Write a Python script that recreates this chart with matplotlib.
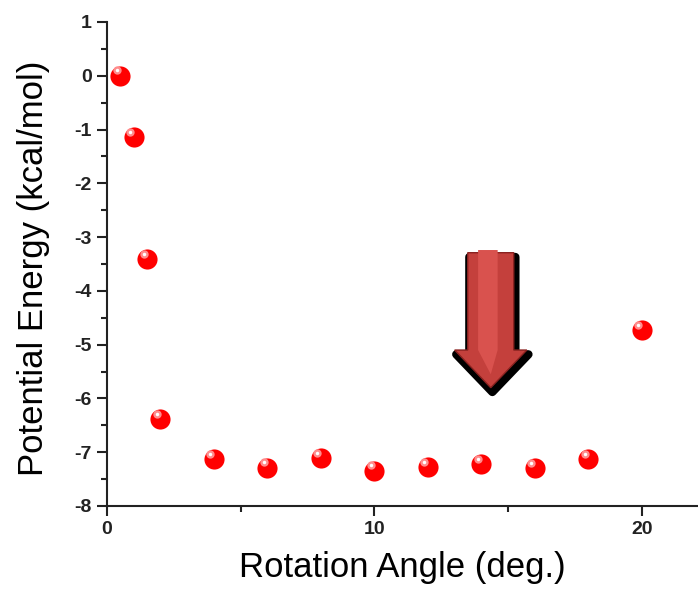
import matplotlib.pyplot as plt
from matplotlib.patches import Polygon
from matplotlib.ticker import MultipleLocator

plt.rcParams['font.family'] = ['Liberation Sans', 'DejaVu Sans']
plt.rcParams['axes.unicode_minus'] = False

# Datos
angulo = [0.5, 1, 1.5, 2, 4, 6, 8, 10, 12, 14, 16, 18, 20]
energia = [0.0, -1.14, -3.41, -6.39, -7.13, -7.29, -7.11, -7.34, -7.28, -7.22, -7.30, -7.13, -4.73]

x_ticks = [0, 10, 20]
y_ticks = list(range(-8, 2))

fig = plt.figure(figsize=(6.98, 5.92), dpi=100)
ax = fig.add_axes([107 / 698, 1 - 506 / 592, 1 - 107 / 698, (506 - 22) / 592])

# Puntos tipo esfera: base roja y brillo blanco
ax.plot(angulo, energia, 'o', color='#ff0000', markersize=14.5, markeredgewidth=0, zorder=3)
ax.plot([a - 0.13 for a in angulo], [e + 0.1 for e in energia], 'o', color='#ff8c8c',
        markersize=6, markeredgewidth=0, zorder=4)
ax.plot([a - 0.13 for a in angulo], [e + 0.1 for e in energia], 'o', color='white',
        markersize=2.5, markeredgewidth=0, zorder=5)

# Flecha hacia abajo
cx, top, neck, tip, sw, hw = 14.35, -3.29, -5.1, -5.8, 0.86, 1.35
flecha = [(cx - sw, top), (cx + sw, top), (cx + sw, neck), (cx + hw, neck),
          (cx, tip), (cx - hw, neck), (cx - sw, neck)]
sombra = [(x + 0.06, y - 0.08) for x, y in flecha]
ax.add_patch(Polygon(sombra, closed=True, facecolor='black', edgecolor='black',
                     linewidth=6, joinstyle='round', zorder=2))
ax.add_patch(Polygon(flecha, closed=True, facecolor='#c4403c', edgecolor='#8a2220',
                     linewidth=1, zorder=2.5))
brillo = [(cx - sw * 0.55, top + 0.05), (cx + sw * 0.3, top + 0.05), (cx + sw * 0.3, neck),
          (cx, tip + 0.25), (cx - sw * 0.55, neck)]
ax.add_patch(Polygon(brillo, closed=True, facecolor='#d9524e', edgecolor='none', zorder=2.6))

ax.set_xlim(0, 22.1)
ax.set_ylim(-8, 1)
ax.set_xticks(x_ticks)
ax.set_yticks(y_ticks)
ax.xaxis.set_minor_locator(MultipleLocator(5))
ax.yaxis.set_minor_locator(MultipleLocator(0.5))

for lado in ['top', 'right']:
    ax.spines[lado].set_visible(False)
for lado in ['left', 'bottom']:
    ax.spines[lado].set_linewidth(1.5)
    ax.spines[lado].set_color('#222222')

ax.tick_params(which='major', direction='out', length=7, width=1.5, color='#222222')
ax.tick_params(which='minor', direction='out', length=4, width=1.5, color='#222222')
ax.tick_params(labelsize=14, pad=4)
for lbl in ax.get_xticklabels() + ax.get_yticklabels():
    lbl.set_fontweight('bold')
    lbl.set_color('#222222')

ax.set_xlabel('Rotation Angle (deg.)', fontsize=25)
ax.xaxis.set_label_coords(0.5, -0.094)
ax.set_ylabel('Potential Energy (kcal/mol)', fontsize=25)
ax.yaxis.set_label_coords(-0.097, 0.492)

plt.savefig('out.png', dpi=100)
plt.close(fig)
